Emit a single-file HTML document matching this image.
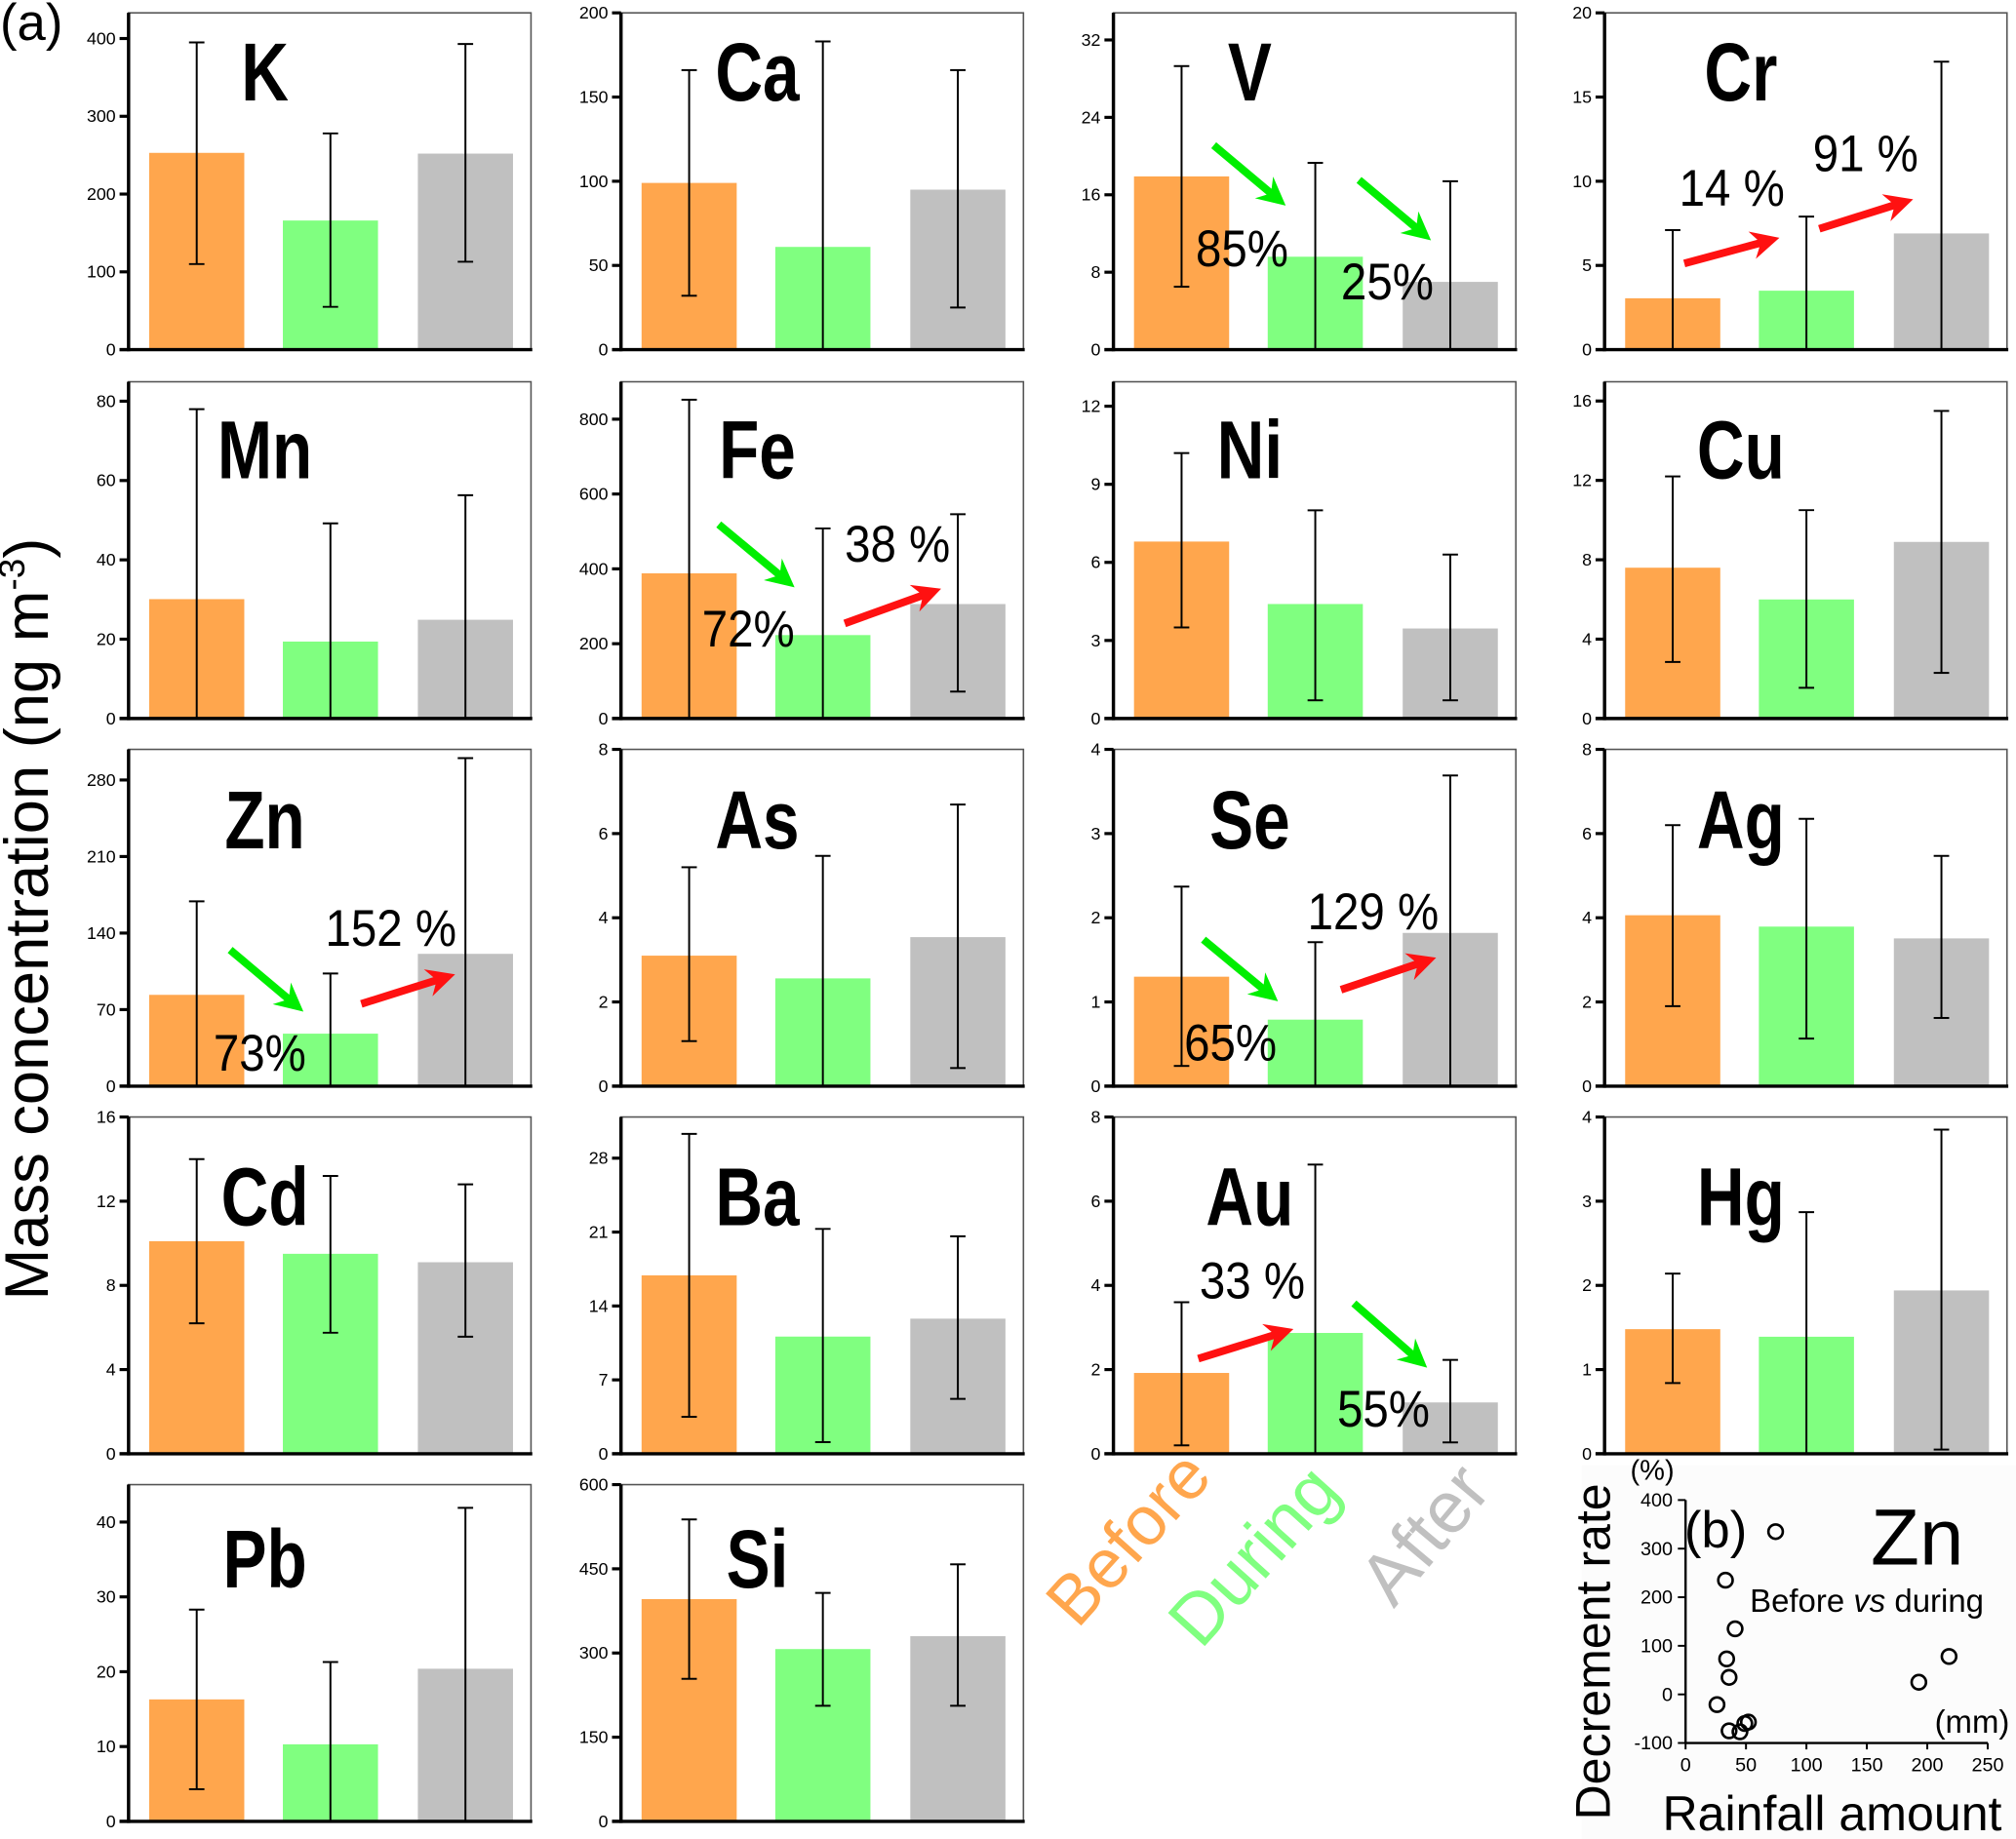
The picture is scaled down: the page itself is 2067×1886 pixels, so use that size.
<!DOCTYPE html>
<html><head><meta charset="utf-8"><style>
html,body{margin:0;padding:0;background:#fff;}
svg{display:block;}
text{font-family:"Liberation Sans",sans-serif;}
</style></head><body>
<svg id="fig" width="2067" height="1886" viewBox="0 0 1568 1430.7" xmlns="http://www.w3.org/2000/svg">
<rect x="0" y="0" width="1568" height="1431" fill="#fff"/>
<rect x="1230" y="1140" width="338" height="291" fill="#fcfcfc"/>
<text x="0" y="31" font-size="40">(a)</text>
<text transform="translate(37,715) rotate(-90)" text-anchor="middle" font-size="48">Mass concentration (ng m<tspan font-size="28" dy="-18">-3</tspan><tspan dy="18">)</tspan></text>
<g id="panels"></g>
<g id="annot"></g>
<text transform="translate(838,1268) rotate(-48)" font-size="54" fill="#ffa64d">Before</text>
<text transform="translate(934,1284) rotate(-48)" font-size="56" fill="#80ff80">During</text>
<text transform="translate(1084,1252) rotate(-50)" font-size="57" fill="#c0c0c0">After</text>
<g id="scatter"></g>
</svg>
<script>
const NS="http://www.w3.org/2000/svg";
const elements=["K","Ca","V","Cr","Mn","Fe","Ni","Cu","Zn","As","Se","Ag","Cd","Ba","Au","Hg","Pb","Si"];
const tickSteps=[100,50,8,5,20,200,3,4,70,2,1,2,4,7,2,1,10,150];
const tickMaxes=[400,200,32,20,80,800,12,16,280,8,4,8,16,28,8,4,40,600];
const axisMax=[433,200,34.8,20,84.9,900,12.94,16.97,308,8,4,8,16,31.9,8,4,45,600];
const beforeVals=[253,99,17.9,3.05,30.1,388,6.8,7.6,83.5,3.1,1.30,4.06,10.1,16.9,1.92,1.48,16.3,396];
const duringVals=[166,61,9.6,3.5,19.4,223,4.4,6.0,48,2.56,0.79,3.79,9.5,11.1,2.87,1.39,10.3,307];
const afterVals=[252,95,7.0,6.9,24.9,306,3.46,8.9,121,3.54,1.82,3.51,9.1,12.8,1.22,1.94,20.4,330];
const beforeHigh=[395,166,29.3,7.1,78,852,10.2,12.2,169,5.2,2.37,6.2,14.0,30.3,3.6,2.14,28.3,538];
const beforeLow=[110,32,6.5,0,0,0,3.5,2.85,0,1.07,0.24,1.9,6.2,3.5,0.2,0.84,4.3,254];
const duringHigh=[278,183,19.3,7.9,49.2,508,8.0,10.5,103,5.47,1.71,6.35,13.2,21.3,6.87,2.87,21.3,407];
const duringLow=[55,0,0,0,0,0,0.7,1.55,0,0,0,1.13,5.75,1.1,0,0,0,206];
const afterHigh=[393,166,17.4,17.1,56.3,546,6.3,15.5,300,6.69,3.69,5.47,12.8,20.6,2.23,3.85,41.9,458];
const afterLow=[113,25,0,0,0,72,0.7,2.3,0,0.43,0,1.62,5.56,5.2,0.27,0.05,0,206];
const scatterRain=[74.5,33,41,34,36,26,36,45,52,49,193,218];
const scatterRate=[335,235,135,73,35,-21,-75,-77,-57,-60,25,78];
const scatterXTicks=[0,50,100,150,200,250];
const scatterYTicks=[-100,0,100,200,300,400];

function mk(tag,attrs,parent){const e=document.createElementNS(NS,tag);for(const k in attrs)e.setAttribute(k,attrs[k]);parent.appendChild(e);return e;}
const panels=document.getElementById('panels');
const colX=[100,483,866,1248], rowB=[272,559,845,1131,1417], H=262, W=313;
const colors=["#ffa64d","#80ff80","#c0c0c0"], bOff=[16,120,225], bW=74;
const labelY=[78,372,660,953,1235];
elements.forEach((el,i)=>{
  const r=Math.floor(i/4), c=i%4, x0=colX[c], y0=rowB[r];
  const yS=v=>y0-v/axisMax[i]*H;
  const g=mk('g',{},panels);
  
  
  const fr=mk('rect',{x:x0,y:y0-H,width:W,height:H,fill:'none',stroke:'#555','stroke-width':1.2},g);
  
  
  const vals=[beforeVals[i],duringVals[i],afterVals[i]];
  const hi=[beforeHigh[i],duringHigh[i],afterHigh[i]];
  const lo=[beforeLow[i],duringLow[i],afterLow[i]];
  const nm=['before','during','after'];
  for(let k=0;k<3;k++){
    const b=mk('rect',{x:x0+bOff[k],y:yS(vals[k]),width:bW,height:y0-yS(vals[k]),fill:colors[k]},g);
    
    
    const cx=x0+bOff[k]+bW/2;
    const eg=mk('g',{stroke:'#000','stroke-width':1.5},g);
    
    
    mk('line',{x1:cx,x2:cx,y1:yS(hi[k]),y2:yS(lo[k])},eg);
    mk('line',{x1:cx-6,x2:cx+6,y1:yS(hi[k]),y2:yS(hi[k])},eg);
    mk('line',{x1:cx-6,x2:cx+6,y1:yS(lo[k]),y2:yS(lo[k])},eg);
  }
  const ax=mk('g',{stroke:'#000','stroke-width':2.6},g);
  
  
  mk('line',{x1:x0,x2:x0,y1:y0-H,y2:y0+1.3},ax);
  mk('line',{x1:x0-7,x2:x0+W+1,y1:y0,y2:y0},ax);
  for(let t=0;t<=tickMaxes[i]+1e-9;t+=tickSteps[i]){
    const ty=yS(t);
    mk('line',{x1:x0-7,x2:x0,y1:ty,y2:ty,stroke:'#000','stroke-width':2.4},g);
    const tl=mk('text',{x:x0-10,y:ty+4.5,'text-anchor':'end','font-size':13.5},g);
    tl.textContent=String(Math.round(t*100)/100);
    
    
  }
  const lt=mk('text',{x:0,y:0,'text-anchor':'middle','font-size':64,'font-weight':'bold',transform:`translate(${x0+106},${labelY[r]}) scale(0.8,1)`},g);
  lt.textContent=el;
  
  
});

const annot=document.getElementById('annot');
function arrow(x1,y1,x2,y2,col,name){
  const g=mk('g',{},annot);
  
  
  const dx=x2-x1,dy=y2-y1,L=Math.hypot(dx,dy),ux=dx/L,uy=dy/L,px=-uy,py=ux;
  const hl=22,hw=11;
  const bx=x2-ux*hl,by=y2-uy*hl;
  mk('line',{x1:x1,y1:y1,x2:x2-ux*12,y2:y2-uy*12,stroke:col,'stroke-width':6},g);
  const nx=x2-ux*(hl-7),ny=y2-uy*(hl-7);
  mk('polygon',{points:`${x2},${y2} ${bx+px*hw},${by+py*hw} ${nx},${ny} ${bx-px*hw},${by-py*hw}`,fill:col},g);
}
function label(x,y,t,name){const e=mk('text',{x:0,y:0,'font-size':40,transform:`translate(${x},${y}) scale(0.9,1)`},annot);e.textContent=t;}
const G="#00ee00",R="#ff1111";
arrow(944,113,1000,160,G,'arrow-v-1');label(930,207,'85%','pct-v-1');
arrow(1057,140,1113,187,G,'arrow-v-2');label(1043,233,'25%','pct-v-2');
arrow(1310,205,1384,185,R,'arrow-cr-1');label(1306,160,'14 %','pct-cr-1');
arrow(1415,178,1488,155,R,'arrow-cr-2');label(1410,133,'91 %','pct-cr-2');
arrow(559,408,618,457,G,'arrow-fe-1');label(546,503,'72%','pct-fe-1');
arrow(657,485,732,458,R,'arrow-fe-2');label(657,437,'38 %','pct-fe-2');
arrow(179,739,236,787,G,'arrow-zn-1');label(166,833,'73%','pct-zn-1');
arrow(281,781,354,758,R,'arrow-zn-2');label(253,736,'152 %','pct-zn-2');
arrow(936,731,994,779,G,'arrow-se-1');label(921,825,'65%','pct-se-1');
arrow(1043,770,1117,745,R,'arrow-se-2');label(1017,723,'129 %','pct-se-2');
arrow(932,1057,1006,1034,R,'arrow-au-1');label(933,1010,'33 %','pct-au-1');
arrow(1053,1014,1110,1064,G,'arrow-au-2');label(1040,1110,'55%','pct-au-2');

const sc=document.getElementById('scatter');


const sx0=1311,sx1=1546,sy0=1356,sy1=1167;
const sxS=v=>sx0+(v-0)/250*(sx1-sx0), syS=v=>sy0-(v+100)/500*(sy0-sy1);
mk('line',{x1:sx0,x2:sx0,y1:sy1,y2:sy0,stroke:'#000','stroke-width':1.8},sc);
mk('line',{x1:sx0,x2:sx1,y1:sy0,y2:sy0,stroke:'#000','stroke-width':1.8},sc);
scatterXTicks.forEach(t=>{const x=sxS(t);mk('line',{x1:x,x2:x,y1:sy0,y2:sy0+5,stroke:'#000','stroke-width':1.5},sc);const e=mk('text',{x:x,y:sy0+22,'text-anchor':'middle','font-size':15},sc);e.textContent=t;});
scatterYTicks.forEach(t=>{const y=syS(t);mk('line',{x1:sx0-6,x2:sx0,y1:y,y2:y,stroke:'#000','stroke-width':1.5},sc);const e=mk('text',{x:sx0-10,y:y+5,'text-anchor':'end','font-size':15},sc);e.textContent=t;});
scatterRain.forEach((v,i)=>{const p=mk('circle',{cx:sxS(v),cy:syS(scatterRate[i]),r:5.6,fill:'none',stroke:'#000','stroke-width':2},sc);});
function st(x,y,t,fs,name,extra){const e=mk('text',Object.assign({x:x,y:y,'font-size':fs},extra||{}),sc);e.textContent=t;return e;}
st(1268,1151,'(%)',22,'y-unit-label');
st(1310,1204,'(b)',40,'panel-b-label');
st(1455,1217,'Zn',62,'scatter-element-label');
const bv=mk('text',{x:1361,y:1254,'font-size':25},sc);


bv.innerHTML='Before <tspan font-style="italic">vs</tspan> during';
st(1563,1348,'(mm)',25,'x-unit-label',{'text-anchor':'end'});
st(1425,1424,'Rainfall amount',38,'x-axis-title',{'text-anchor':'middle'});
st(0,0,'Decrement rate',38,'y-axis-title-b',{'text-anchor':'middle',transform:'translate(1252,1285) rotate(-90)'});
</script>
</body></html>
